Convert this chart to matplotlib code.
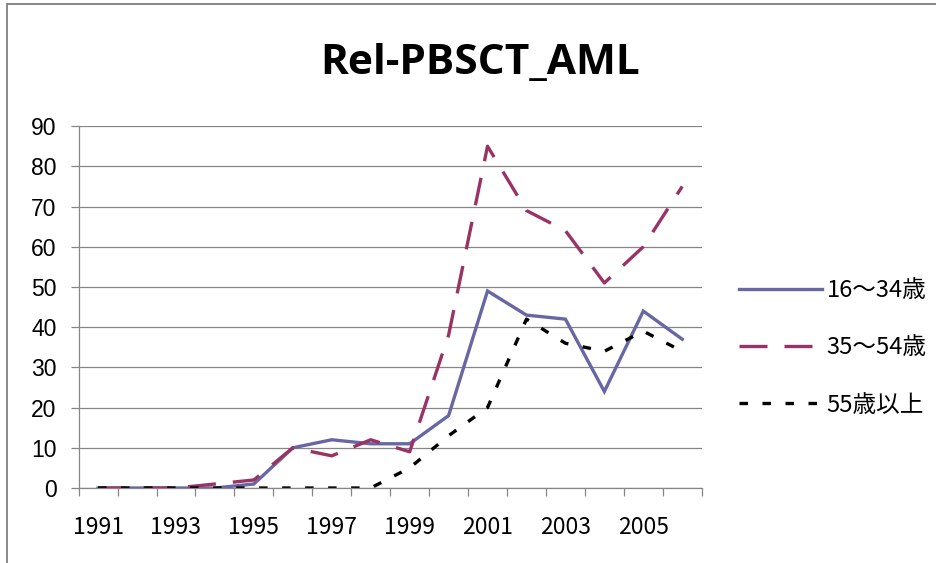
import matplotlib.pyplot as plt
from matplotlib.patches import Rectangle

years = list(range(1991, 2007))
age_16_34 = [0, 0, 0, 0, 1, 10, 12, 11, 11, 18, 49, 43, 42, 24, 44, 37]
age_35_54 = [0, 0, 0, 1, 2, 10, 8, 12, 9, 38, 85, 69, 64, 51, 60, 75]
age_55_up = [0, 0, 0, 0, 0, 0, 0, 0, 5, 13, 20, 42, 36, 34, 39, 34]
labels = ["16～34歳", "35～54歳", "55歳以上"]

jp = ["Noto Sans CJK JP", "DejaVu Sans"]
grid_col = "#868686"

fig = plt.figure(figsize=(9.36, 5.63), dpi=100)
ax = fig.add_axes([0.084, 0.1332, 0.6657, 0.6428])

x = list(range(len(years)))
ax.plot(x, age_16_34, color="#6767A3", lw=2.4, label=labels[0], solid_joinstyle="miter")
ax.plot(x, age_35_54, color="#993366", lw=2.4, label=labels[1], linestyle=(0, (8.4, 5.1)))
ax.plot(x, age_55_up, color="black", lw=2.4, label=labels[2], linestyle=(0, (2.55, 4.35)))

ax.set_xlim(-0.5, len(years) - 0.5)
ax.set_ylim(0, 90)
ax.set_yticks(range(0, 91, 10))
ax.yaxis.grid(True, color=grid_col, lw=0.9)
ax.set_axisbelow(True)

# category boundaries get tick marks, labels every other year
ax.set_xticks([i - 0.5 for i in range(len(years) + 1)])
ax.set_xticklabels([])
ax.set_xticks(x[::2], minor=True)
ax.set_xticklabels([str(y) for y in years[::2]], minor=True, family=jp, fontsize=16.5)
ax.tick_params(axis="x", which="minor", length=0, pad=20)
ax.tick_params(axis="x", which="major", length=6, color=grid_col, width=0.9)
ax.tick_params(axis="y", length=6, color=grid_col, width=0.9, pad=10, labelsize=16.5)
for t in ax.get_yticklabels():
    t.set_family("Liberation Sans")

for s in ["top", "right"]:
    ax.spines[s].set_visible(False)
for s in ["left", "bottom"]:
    ax.spines[s].set_color(grid_col)
    ax.spines[s].set_linewidth(0.9)

fig.text(0.513, 0.887, "Rel-PBSCT_AML", ha="center", va="center",
         fontsize=30.5, fontweight="bold", family="Open Sans")

ax.legend(loc="center left", bbox_to_anchor=(0.777, 0.382), bbox_transform=fig.transFigure,
          frameon=False, prop={"family": jp, "size": 17}, handlelength=3.5,
          handletextpad=0.2, labelspacing=1.45, borderpad=0)

fig.patches.append(Rectangle((6.5 / 936, -0.1), 1.2, 1.1 - 4.5 / 563,
                             transform=fig.transFigure, fill=False,
                             edgecolor="#7f7f7f", lw=1.3))

fig.savefig("out.png", dpi=100)
